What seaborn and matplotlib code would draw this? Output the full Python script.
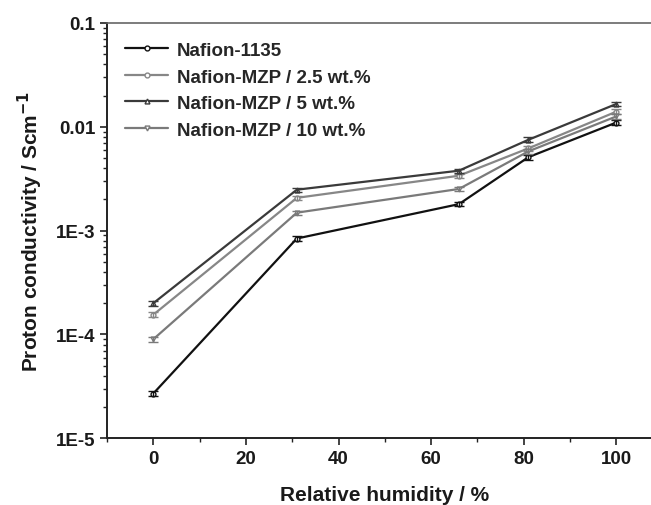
import matplotlib
matplotlib.use("Agg")
import matplotlib.pyplot as plt
import matplotlib.ticker as mticker
import seaborn as sns

# -----------------------------
# Data
# -----------------------------
rh = [0, 31, 66, 81, 100]

nafion_1135 = [2.7e-5, 8.4e-4, 1.80e-3, 5.1e-3, 1.10e-2]
mzp_2_5 = [1.55e-4, 2.07e-3, 3.38e-3, 6.2e-3, 1.40e-2]
mzp_5 = [2.0e-4, 2.48e-3, 3.78e-3, 7.5e-3, 1.66e-2]
mzp_10 = [9.0e-5, 1.49e-3, 2.52e-3, 5.8e-3, 1.26e-2]

err_1135 = [1.5e-6, 4e-5, 8e-5, 3e-4, 6e-4]
err_2_5 = [8e-6, 9e-5, 1.5e-4, 3e-4, 7e-4]
err_5 = [1e-5, 1.1e-4, 1.7e-4, 4e-4, 9e-4]
err_10 = [5e-6, 7e-5, 1.1e-4, 3e-4, 6e-4]

labels = ["Nafion-1135", "Nafion-MZP / 2.5 wt.%", "Nafion-MZP / 5 wt.%", "Nafion-MZP / 10 wt.%"]
colors = ["#111111", "#878787", "#3a3a3a", "#7a7a7a"]
markers = ["o", "o", "^", "v"]

series = [nafion_1135, mzp_2_5, mzp_5, mzp_10]
errors = [err_1135, err_2_5, err_5, err_10]

y_tick_vals = [1e-5, 1e-4, 1e-3, 1e-2, 1e-1]
y_tick_text = ["1E-5", "1E-4", "1E-3", "0.01", "0.1"]

# -----------------------------
# Plot
# -----------------------------
sns.set_style("ticks")
plt.rcParams["font.family"] = ["Liberation Sans", "DejaVu Sans"]
plt.rcParams["font.weight"] = "bold"
plt.rcParams["mathtext.default"] = "bf"

fig = plt.figure(figsize=(6.51, 5.06), dpi=100)
ax = fig.add_axes([0.1644, 0.1318, 0.8535, 0.8208])

for s, e, c, m, lab in zip(series, errors, colors, markers, labels):
    sns.lineplot(x=rh, y=s, color=c, marker=m, markersize=3.5,
                 markerfacecolor="white", markeredgecolor=c, markeredgewidth=1.0,
                 linewidth=1.6, label=lab, ax=ax)
    ax.errorbar(rh, s, yerr=e, fmt="none", ecolor=c, elinewidth=1.0,
                capsize=3.5, capthick=1.0)

ax.set_yscale("log")
ax.set_xlim(-10, 110)
ax.set_ylim(1e-5, 0.1)
ax.set_xticks([0, 20, 40, 60, 80, 100])
ax.xaxis.set_minor_locator(mticker.MultipleLocator(10))
ax.set_yticks(y_tick_vals)
ax.set_yticklabels(y_tick_text)
ax.yaxis.set_minor_locator(mticker.LogLocator(base=10, subs=range(2, 10)))
ax.yaxis.set_minor_formatter(mticker.NullFormatter())

ax.tick_params(axis="both", which="major", direction="out", length=5, width=1.2,
               labelsize=13.5, color="#222222", labelcolor="#1a1a1a")
ax.tick_params(axis="both", which="minor", direction="out", length=3, width=1.0,
               color="#222222")
for lab in ax.get_xticklabels() + ax.get_yticklabels():
    lab.set_fontweight("bold")

for sp in ["left", "bottom"]:
    ax.spines[sp].set_linewidth(1.4)
    ax.spines[sp].set_color("#222222")
ax.spines["top"].set_linewidth(1.2)
ax.spines["top"].set_color("#666666")
ax.spines["right"].set_visible(False)

ax.set_xlabel("Relative humidity / %", fontsize=15, fontweight="bold",
              labelpad=13, color="#1a1a1a")
ax.set_ylabel("Proton conductivity / Scm$^{-1}$", fontsize=15,
              fontweight="bold", labelpad=8, color="#1a1a1a")

ax.legend(loc="upper left", bbox_to_anchor=(0.002, 0.995), frameon=False,
          prop={"size": 13.5, "weight": "bold"}, handlelength=2.3,
          handletextpad=0.45, labelspacing=0.5)

fig.savefig("out.png", dpi=100)
plt.close(fig)
print("Saved: out.png")
